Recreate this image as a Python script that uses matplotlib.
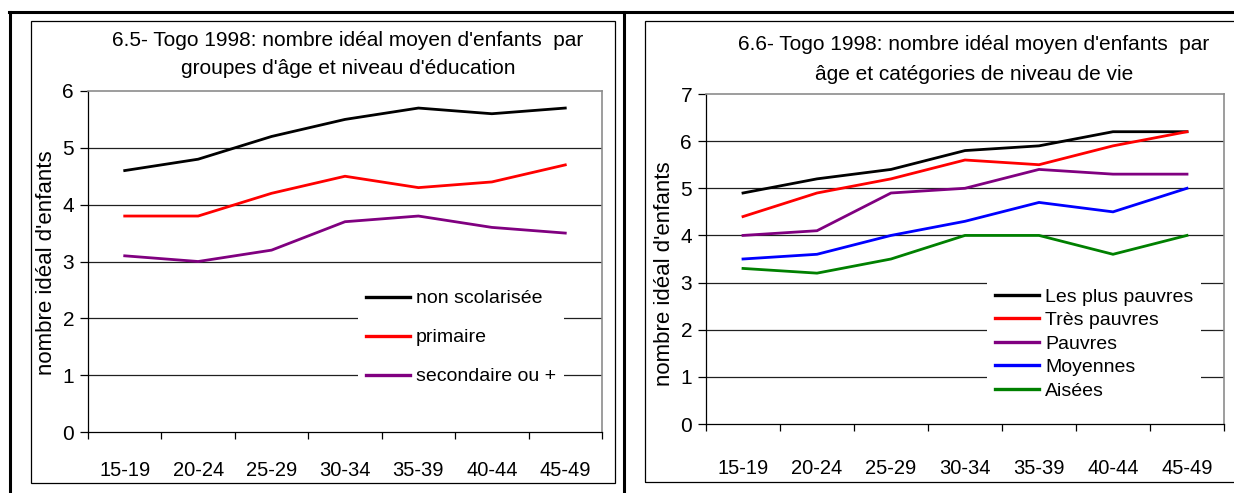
import matplotlib
matplotlib.use("Agg")
import matplotlib.pyplot as plt
from matplotlib.lines import Line2D
from matplotlib.patches import Rectangle

plt.rcParams["font.family"] = ["Liberation Sans", "DejaVu Sans"]

W, H = 1234, 493

ages = ["15-19", "20-24", "25-29", "30-34", "35-39", "40-44", "45-49"]

# niveau d'education
non_scol = [4.6, 4.8, 5.2, 5.5, 5.7, 5.6, 5.7]
primaire = [3.8, 3.8, 4.2, 4.5, 4.3, 4.4, 4.7]
secondaire = [3.1, 3.0, 3.2, 3.7, 3.8, 3.6, 3.5]

# niveau de vie
plus_pauvres = [4.9, 5.2, 5.4, 5.8, 5.9, 6.2, 6.2]
tres_pauvres = [4.4, 4.9, 5.2, 5.6, 5.5, 5.9, 6.2]
pauvres = [4.0, 4.1, 4.9, 5.0, 5.4, 5.3, 5.3]
moyennes = [3.5, 3.6, 4.0, 4.3, 4.7, 4.5, 5.0]
aisees = [3.3, 3.2, 3.5, 4.0, 4.0, 3.6, 4.0]

fig = plt.figure(figsize=(W / 100, H / 100), dpi=100)


def fx(x):
    return x / W


def fy(y):
    return 1 - y / H


def box(x0, y0, x1, y1):
    return [fx(x0), fy(y1), fx(x1 - x0), (y1 - y0) / H]


# cadre du tableau et des graphiques
for xs, ys in [([9, W], [12, 12]), ([10, 10], [12, H]), ([624, 624], [12, H])]:
    fig.add_artist(Line2D([fx(v) for v in xs], [fy(v) for v in ys], color="black", lw=2.2,
                          transform=fig.transFigure))
for x0, y0, x1, y1 in [(31, 21, 615, 483), (645, 21, W + 5, 482)]:
    fig.add_artist(Rectangle((fx(x0), fy(y1)), fx(x1 - x0), (y1 - y0) / H, fill=False,
                             ec="black", lw=0.9, transform=fig.transFigure))


def panel(rect, ymax, series, title, tcx, ty, ylx, yly, leg_anchor, leg_space, xpad):
    ax = fig.add_axes(rect)
    x = [i + 0.5 for i in range(len(ages))]
    for vals, lab, col in series:
        ax.plot(x, vals, color=col, lw=2.0, label=lab, solid_joinstyle="miter")
    for v in range(1, ymax):
        ax.axhline(v, color="#202020", lw=0.9, zorder=0)
    ax.set_xlim(0, 7)
    ax.set_ylim(0, ymax)
    ax.set_xticks(range(8))
    ax.set_xticklabels([])
    ax.set_xticks(x, minor=True)
    ax.set_xticklabels(ages, minor=True, fontsize=14.5)
    ax.tick_params(axis="x", which="major", direction="out", length=5, width=0.9)
    ax.tick_params(axis="x", which="minor", length=0, pad=xpad)
    ax.set_yticks(range(ymax + 1))
    ax.tick_params(axis="y", direction="out", length=6, width=0.9, labelsize=15, pad=4)
    for s in ["left", "bottom"]:
        ax.spines[s].set_color("black")
        ax.spines[s].set_linewidth(0.9)
    for s in ["top", "right"]:
        ax.spines[s].set_color("#8c8c8c")
        ax.spines[s].set_linewidth(1.2)
    leg = ax.legend(loc="upper left", bbox_to_anchor=leg_anchor, frameon=True, fancybox=False,
                    fontsize=14, handlelength=2.3, handletextpad=0.3, labelspacing=leg_space,
                    borderpad=0.4, borderaxespad=0)
    leg.get_frame().set_edgecolor("none")
    leg.get_frame().set_facecolor("white")
    leg.get_frame().set_alpha(1)
    for ln in leg.get_lines():
        ln.set_linewidth(2.4)
    fig.text(fx(tcx), fy(ty[0]), title[0], ha="center", va="center", fontsize=15)
    fig.text(fx(tcx), fy(ty[1]), title[1], ha="center", va="center", fontsize=15)
    fig.text(fx(ylx), fy(yly), "nombre idéal d'enfants", rotation=90, ha="center", va="center",
             fontsize=16)
    return ax


panel(box(88, 91, 602, 432), 6,
      [(non_scol, "non scolarisée", "black"),
       (primaire, "primaire", "#ff0000"),
       (secondaire, "secondaire ou +", "#800080")],
      ["6.5- Togo 1998: nombre idéal moyen d'enfants  par",
       "groupes d'âge et niveau d'éducation"],
      348, (41, 68), 47, 263, (0.525, 0.44), 1.1, 21)

panel(box(706, 94, 1224, 424), 7,
      [(plus_pauvres, "Les plus pauvres", "black"),
       (tres_pauvres, "Très pauvres", "#ff0000"),
       (pauvres, "Pauvres", "#800080"),
       (moyennes, "Moyennes", "#0000ff"),
       (aisees, "Aisées", "#008000")],
      ["6.6- Togo 1998: nombre idéal moyen d'enfants  par",
       "âge et catégories de niveau de vie"],
      974, (44, 75), 665, 274, (0.542, 0.435), 0.3, 25)

fig.savefig("out.png", dpi=100)
